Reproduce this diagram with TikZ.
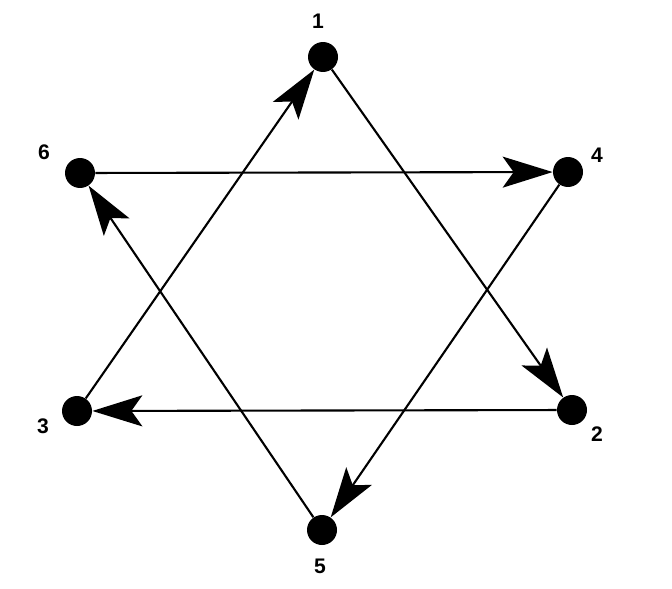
\documentclass[tikz,border=0pt]{standalone}
\usepackage{fontspec}
\setmainfont{Liberation Sans}
\usetikzlibrary{arrows.meta}
\tikzset{
  vertex/.style={circle, fill=black, inner sep=0pt, minimum size=0.6cm},
  num/.style={font=\fontsize{12}{14}\selectfont\bfseries},
  edge/.style={line width=1.2pt, -{Stealth[length=1cm, width=0.62cm, inset=0.22cm]}}
}
\begin{document}
\begin{tikzpicture}[x=0.02cm, y=-0.02cm]
    \useasboundingbox (0,0) rectangle (672,588);

    % vertices
    \node[vertex] (v1) at (323,57) {};
    \node[vertex] (v2) at (572,410) {};
    \node[vertex] (v3) at (77,411) {};
    \node[vertex] (v4) at (568,172) {};
    \node[vertex] (v5) at (322,530) {};
    \node[vertex] (v6) at (80,173) {};

    % numbers
    \node[num] (n1) at (318,21) {1};
    \node[num] (n2) at (597,434) {2};
    \node[num] (n3) at (43,426) {3};
    \node[num] (n4) at (597,155) {4};
    \node[num] (n5) at (320,566) {5};
    \node[num] (n6) at (44,152) {6};

    % triangle 1-2-3
    \draw[edge] (v3) -- (v1);
    \draw[edge] (v1) -- (v2);
    \draw[edge] (v2) -- (v3);

    % triangle 4-5-6
    \draw[edge] (v6) -- (v4);
    \draw[edge] (v4) -- (v5);
    \draw[edge] (v5) -- (v6);
\end{tikzpicture}
\end{document}
